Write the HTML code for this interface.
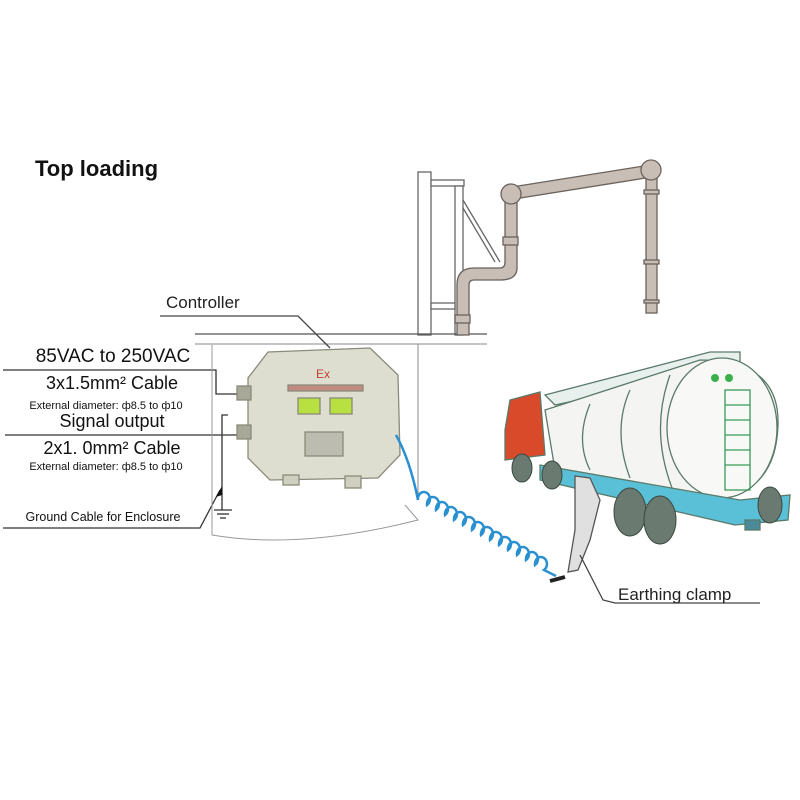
<!DOCTYPE html>
<html><head><meta charset="utf-8"><style>
body{margin:0;background:#fff;}
svg{display:block;font-family:"Liberation Sans",Arial,sans-serif;}
</style></head><body>
<svg width="800" height="800" viewBox="0 0 800 800" xmlns="http://www.w3.org/2000/svg">
<rect width="800" height="800" fill="#fff"/>
<text x="35" y="176" font-size="22" font-weight="bold" fill="#111">Top loading</text>

<!-- loading platform -->
<g stroke="#666" stroke-width="1.3" fill="#fff">
<rect x="418" y="172" width="13" height="163"/>
<rect x="431" y="180" width="33" height="6"/>
<rect x="455" y="186" width="8" height="149"/>
<rect x="431" y="303" width="24" height="6"/>
<line x1="463" y1="200" x2="500" y2="262"/>
<line x1="463" y1="208" x2="495" y2="262"/>
</g>
<line x1="195" y1="334" x2="487" y2="334" stroke="#555" stroke-width="1.3"/>
<line x1="195" y1="344" x2="487" y2="344" stroke="#888" stroke-width="1"/>
<line x1="418" y1="344" x2="418" y2="500" stroke="#888" stroke-width="1"/>
<!-- pipes -->
<g fill="#c9beb6" stroke="#6a625c" stroke-width="1.3">
<path d="M457 335 V285 Q457 268 474 268 H500 Q505 268 505 262 V195 H517 V268 Q517 280 500 280 H474 Q469 280 469 285 V335 Z"/>
<path d="M512 187 L650 165 L652 177 L514 199 Z"/>
<rect x="646" y="172" width="11" height="141"/>
<circle cx="511" cy="194" r="10"/>
<circle cx="651" cy="170" r="10"/>
<rect x="503" y="237" width="15" height="8"/>
<rect x="455" y="315" width="15" height="8"/>
<rect x="644" y="190" width="15" height="4"/>
<rect x="644" y="260" width="15" height="4"/>
<rect x="644" y="300" width="15" height="3"/>
</g>

<!-- Controller label -->
<text x="166" y="308" font-size="17" fill="#222">Controller</text>
<polyline points="160,316 298,316 330,348" fill="none" stroke="#444" stroke-width="1.3"/>

<!-- left labels -->
<g fill="#111" text-anchor="middle">
<text x="113" y="362" font-size="19">85VAC to 250VAC</text>
<text x="112" y="389" font-size="18">3x1.5mm² Cable</text>
<text x="106" y="409" font-size="11">External diameter: ф8.5 to ф10</text>
<text x="112" y="427" font-size="18">Signal output</text>
<text x="112" y="454" font-size="18">2x1. 0mm² Cable</text>
<text x="106" y="470" font-size="11">External diameter: ф8.5 to ф10</text>
<text x="103" y="521" font-size="12.5">Ground Cable for Enclosure</text>
</g>
<g fill="none" stroke="#333" stroke-width="1.3">
<polyline points="3,370 216,370 216,394 240,394"/>
<line x1="5" y1="435" x2="240" y2="435"/>
<polyline points="228,415 222,415 222,510"/>
<line x1="214" y1="510" x2="232" y2="510"/>
<line x1="217" y1="514" x2="229" y2="514"/>
<line x1="220" y1="518" x2="226" y2="518"/>
<polyline points="3,528 200,528 220,490"/>
</g>
<path d="M222,486 L216,497 L222,495 Z" fill="#111"/>
<path d="M212,345 V535 Q300,550 418,520 L405,505" fill="none" stroke="#999" stroke-width="1"/>

<!-- controller box -->
<g stroke="#8a8a7a" stroke-width="1.3">
<path d="M268,352 L370,348 L398,375 L400,455 L378,478 L270,480 L248,458 L248,378 Z" fill="#deded0"/>
<rect x="288" y="385" width="75" height="6" fill="#c08a80"/>
<rect x="298" y="398" width="22" height="16" fill="#b8e040"/>
<rect x="330" y="398" width="22" height="16" fill="#b8e040"/>
<rect x="305" y="432" width="38" height="24" fill="#bcbcb0"/>
<rect x="237" y="386" width="14" height="14" fill="#a8a898"/>
<rect x="237" y="425" width="14" height="14" fill="#a8a898"/>
<rect x="283" y="475" width="16" height="10" fill="#d0d0c0"/>
<rect x="345" y="476" width="16" height="12" fill="#d0d0c0"/>
</g>
<text x="316" y="378" font-size="12" fill="#c04030">Ex</text>

<!-- coiled cable -->
<path d="M396,435 Q410,460 418,500" fill="none" stroke="#2a90d0" stroke-width="2.5"/>
<path d="M418,500 a6 7 0 1 1 9 5 a6 7 0 1 1 9 5 a6 7 0 1 1 9 5 a6 7 0 1 1 9 5 a6 7 0 1 1 9 5 a6 7 0 1 1 9 5 a6 7 0 1 1 9 5 a6 7 0 1 1 9 5 a6 7 0 1 1 9 5 a6 7 0 1 1 9 5 a6 7 0 1 1 9 5 a6 7 0 1 1 9 5 a6 7 0 1 1 9 5 a6 7 0 1 1 9 5 l12,6" fill="none" stroke="#2a90d0" stroke-width="2.5"/>
<path d="M550,581 L565,577" stroke="#222" stroke-width="4"/>

<!-- tanker -->
<g stroke="#5a7a6a" stroke-width="1.3">
<path d="M505,430 L510,400 L540,392 L545,455 L505,460 Z" fill="#d84a2a"/>
<path d="M545,395 L710,352 L740,352 L740,365 L555,405 Z" fill="#e8f0ee"/>
<path d="M545,410 L700,360 Q780,360 778,425 Q776,490 720,498 L555,470 Z" fill="#f4f4f2"/>
<ellipse cx="722" cy="428" rx="55" ry="70" fill="#f8f8f6"/>
<path d="M590,404 Q575,440 590,470" fill="none"/>
<path d="M630,390 Q612,430 630,478" fill="none"/>
<path d="M670,375 Q650,430 672,488" fill="none"/>
<rect x="725" y="390" width="25" height="100" fill="none" stroke="#3a9a5a"/>
<g stroke="#3a9a5a"><line x1="725" y1="405" x2="750" y2="405"/><line x1="725" y1="420" x2="750" y2="420"/><line x1="725" y1="435" x2="750" y2="435"/><line x1="725" y1="450" x2="750" y2="450"/><line x1="725" y1="465" x2="750" y2="465"/></g>
<path d="M540,465 L740,500 L790,495 L788,520 L735,525 L540,480 Z" fill="#5ac0d8"/>
<rect x="745" y="520" width="15" height="10" fill="#4a8a9a"/>
</g>
<g fill="#6a7a70" stroke="#3a4a40">
<ellipse cx="522" cy="468" rx="10" ry="14"/>
<ellipse cx="552" cy="475" rx="10" ry="14"/>
<ellipse cx="630" cy="512" rx="16" ry="24"/>
<ellipse cx="660" cy="520" rx="16" ry="24"/>
<ellipse cx="770" cy="505" rx="12" ry="18"/>
</g>
<circle cx="715" cy="378" r="4" fill="#3ab04a"/>
<circle cx="729" cy="378" r="4" fill="#3ab04a"/>
<!-- clamp -->
<path d="M575,476 L590,478 L600,500 L590,540 L578,570 L568,572 L575,530 Z" fill="#e0e0e0" stroke="#555" stroke-width="1.3"/>
<polyline points="580,555 603,600 615,603 760,603" fill="none" stroke="#444" stroke-width="1.3"/>
<text x="618" y="600" font-size="17" fill="#222">Earthing clamp</text>
</svg>
</body></html>
